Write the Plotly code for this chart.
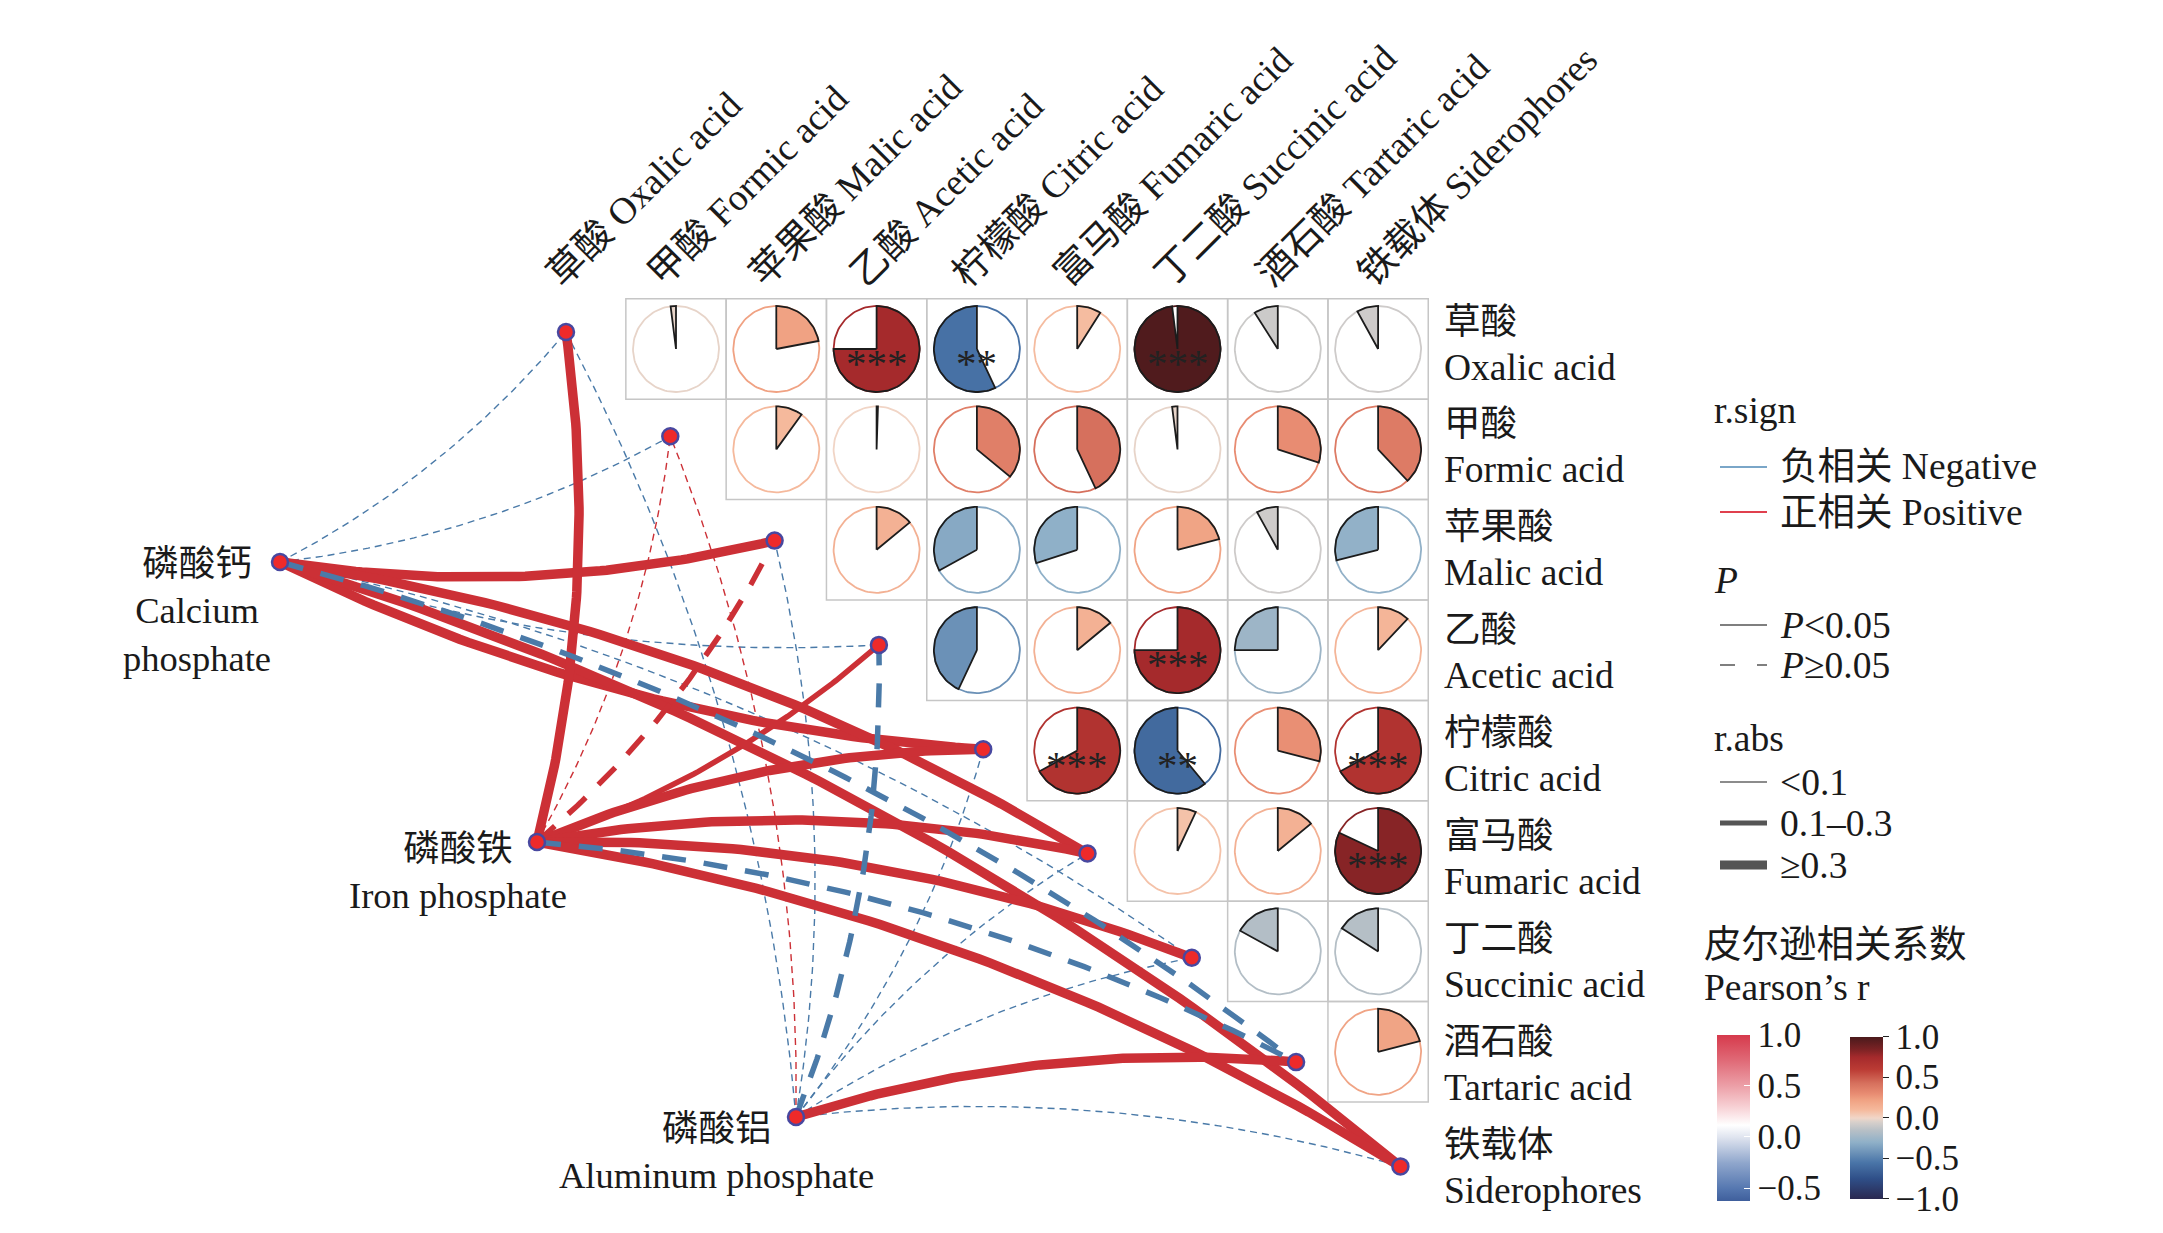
import numpy as np
import plotly.graph_objects as go

# ---------------- data ----------------
acid_en = ["Oxalic acid", "Formic acid", "Malic acid", "Acetic acid", "Citric acid",
           "Fumaric acid", "Succinic acid", "Tartaric acid", "Siderophores"]
acid_cn = ["草酸", "甲酸", "苹果酸", "乙酸", "柠檬酸", "富马酸", "丁二酸", "酒石酸", "铁载体"]

# Pearson r, upper triangle: row i holds columns i+1 .. 8
r_rows = [
    [-0.02, 0.22, 0.75, -0.57, 0.09, 0.98, -0.09, -0.08],
    [0.10, 0.005, 0.36, 0.43, -0.02, 0.30, 0.38],
    [0.14, -0.33, -0.30, 0.21, -0.08, -0.29],
    [-0.43, 0.14, 0.75, -0.25, 0.12],
    [0.67, -0.61, 0.29, 0.67],
    [0.07, 0.14, 0.82],
    [-0.17, -0.16],
    [0.21],
]
star_rows = [
    ["", "", "***", "**", "", "***", "", ""],
    ["", "", "", "", "", "", ""],
    ["", "", "", "", "", ""],
    ["", "", "***", "", ""],
    ["***", "**", "", "***"],
    ["", "", "***"],
    ["", ""],
    [""],
]

phos_cn = ["磷酸钙", "磷酸铁", "磷酸铝"]
phos_en = ["Calcium<br>phosphate", "Iron phosphate", "Aluminum phosphate"]

# Mantel-style links: sign (+1/-1), P<0.05 (1) or not (0), |r| class (0:<0.1, 1:0.1-0.3, 2:>=0.3)
calcium_sign = [-1, -1, 1, -1, 1, 1, -1, -1, 1]
calcium_sig = [0, 0, 1, 0, 1, 1, 0, 0, 1]
calcium_abs = [0, 0, 2, 0, 2, 2, 0, 1, 2]

iron_sign = [1, 1, 1, 1, 1, 1, 1, -1, 1]
iron_sig = [1, 0, 0, 1, 1, 1, 1, 0, 1]
iron_abs = [2, 0, 1, 1, 2, 2, 2, 1, 2]

alum_sign = [-1, 1, -1, -1, -1, -1, -1, 1, -1]
alum_sig = [0, 0, 0, 0, 0, 0, 0, 1, 0]
alum_abs = [0, 0, 0, 1, 0, 0, 0, 2, 0]

# ---------------- layout / style ----------------
W, H = 2163, 1233
X0, SX = 575.7, 100.3   # pixel of column 0 centre, px per column
Y0, SY = 349.0, 100.4   # pixel of row 0 centre, px per row
FONT = "Liberation Serif, 'Noto Sans CJK SC', serif"
FS = 37.5
TXT = "#1a1a1a"


def dat(xp, yp):
    return (xp - X0) / SX, (yp - Y0) / SY


def pap(xp, yp):
    return xp / W, 1 - yp / H


def hex2rgb(h):
    h = h.lstrip('#')
    return tuple(int(h[i:i + 2], 16) for i in (0, 2, 4))


def interp(stops, v):
    vmin, vmax = stops[0][0], stops[-1][0]
    v = min(max(v, vmin), vmax)
    for (v0, c0), (v1, c1) in zip(stops[:-1], stops[1:]):
        if v <= v1:
            f = 0 if v1 == v0 else (v - v0) / (v1 - v0)
            a, b = hex2rgb(c0), hex2rgb(c1)
            return 'rgb(%d,%d,%d)' % tuple(round(a[i] + (b[i] - a[i]) * f) for i in range(3))
    return stops[-1][1]


def to_scale(stops):
    vmin, vmax = stops[0][0], stops[-1][0]
    return [[(v - vmin) / (vmax - vmin), c] for v, c in stops]


PIE_STOPS = [(-1.0, "#2a2850"), (-0.75, "#2f4f88"), (-0.55, "#4a75a8"), (-0.3, "#8fb0c8"),
             (-0.15, "#b8c0c6"), (-0.05, "#d8d0cb"), (0.0, "#f1d6c8"), (0.1, "#f5b99c"),
             (0.22, "#f0a283"), (0.3, "#e88c72"), (0.43, "#d6705d"), (0.6, "#bb3b34"),
             (0.75, "#a52a2c"), (0.85, "#7a2224"), (1.0, "#4a1a1c")]
EDGE_STOPS = [(-0.62, "#3f5f9c"), (-0.5, "#5577b0"), (-0.25, "#8fa6cc"), (0.0, "#dfe4ef"),
              (0.12, "#ffffff"), (0.3, "#f7d0d4"), (0.5, "#eca0a8"), (0.75, "#e06a77"),
              (1.0, "#d63a4c")]

fig = go.Figure()
shapes = []
annotations = []

# ---------------- correlation grid with pies ----------------
RX, RY = 43 / SX, 43 / SY
for i, row in enumerate(r_rows):
    for j, r in enumerate(row):
        k = i + 1 + j
        cx, cy = k, i
        shapes.append(dict(type="rect", xref="x", yref="y", x0=cx - 0.5, x1=cx + 0.5,
                           y0=cy - 0.5, y1=cy + 0.5, line=dict(color="#c6c6c6", width=1.5),
                           layer="below"))
        col = interp(PIE_STOPS, r)
        th = np.linspace(0, 2 * np.pi, 121)
        fig.add_trace(go.Scatter(x=cx + RX * np.sin(th), y=cy - RY * np.cos(th), mode="lines",
                                 line=dict(color=col, width=1.8), hoverinfo="skip",
                                 showlegend=False))
        ang = 2 * np.pi * r
        ta = np.linspace(0, ang, max(3, int(abs(r) * 120) + 2))
        wx = np.concatenate([[cx], cx + RX * np.sin(ta), [cx]])
        wy = np.concatenate([[cy], cy - RY * np.cos(ta), [cy]])
        fig.add_trace(go.Scatter(x=wx, y=wy, mode="lines", fill="toself", fillcolor=col,
                                 line=dict(color="#1c1c1c", width=1.8), hoverinfo="skip",
                                 showlegend=False))
        s = star_rows[i][j]
        if s:
            annotations.append(dict(x=cx, y=cy, xref="x", yref="y", text=s, showarrow=False,
                                    font=dict(family=FONT, size=41, color="#222"),
                                    yshift=-14))

# ---------------- labels ----------------
for k in range(9):
    tx, ty = dat(548 + 101.4 * k - 12, 297)
    annotations.append(dict(x=tx, y=ty, xref="x", yref="y",
                            text=f"{acid_cn[k]} {acid_en[k]}", textangle=-45,
                            xanchor="left", yanchor="bottom", showarrow=False,
                            font=dict(family=FONT, size=FS, color=TXT)))
    lab_c = 344 + 102.9 * k
    lx, ly1 = dat(1442, lab_c - 23)
    _, ly2 = dat(1442, lab_c + 23)
    annotations.append(dict(x=lx, y=ly1, xref="x", yref="y", text=acid_cn[k],
                            xanchor="left", yanchor="middle", showarrow=False,
                            font=dict(family=FONT, size=FS - 1, color=TXT)))
    annotations.append(dict(x=lx, y=ly2, xref="x", yref="y", text=acid_en[k],
                            xanchor="left", yanchor="middle", showarrow=False,
                            font=dict(family=FONT, size=FS, color=TXT)))

# ---------------- network ----------------
acid_node_px = [(566 + 104.3 * k, 332 + 104.3 * k) for k in range(9)]
phos_node_px = [(280, 562), (537, 842), (796, 1117)]
phos_label_px = [(197, 611), (458, 872), (716, 1152)]

link_sign = [calcium_sign, iron_sign, alum_sign]
link_sig = [calcium_sig, iron_sig, alum_sig]
link_abs = [calcium_abs, iron_abs, alum_abs]

WIDTHS = [1.4, 5.5, 9.5]
POS_COL, NEG_COL = "#cc3036", "#4a7aa8"


def curve(p0, p1, side, c=0.1, n=80):
    p0 = np.array(p0, float)
    p1 = np.array(p1, float)
    d = p1 - p0
    L = np.hypot(*d)
    nrm = np.array([-d[1], d[0]]) / L
    ctrl = (p0 + p1) / 2 + side * c * L * nrm
    t = np.linspace(0, 1, n)[:, None]
    return (1 - t) ** 2 * p0 + 2 * t * (1 - t) * ctrl + t ** 2 * p1


edges = []
for p in range(3):
    for k in range(9):
        side = 1 if k <= 4 else -1
        if p == 1 and k == 4:
            side = -1
        edges.append((p, k, side))


def order(e):
    p, k, _ = e
    a = link_abs[p][k]
    return (0 if a == 0 else (1 if link_sig[p][k] else 2), a)


for p, k, side in sorted(edges, key=order):
    pts = curve(phos_node_px[p], acid_node_px[k], side)
    xs, ys = dat(pts[:, 0], pts[:, 1])
    a = link_abs[p][k]
    dash = "solid" if link_sig[p][k] else ("7px,5px" if a == 0 else "24px,18px")
    fig.add_trace(go.Scatter(x=xs, y=ys, mode="lines", hoverinfo="skip", showlegend=False,
                             line=dict(color=POS_COL if link_sign[p][k] > 0 else NEG_COL,
                                       width=WIDTHS[a], dash=dash)))

nx = [dat(*q)[0] for q in acid_node_px + phos_node_px]
ny = [dat(*q)[1] for q in acid_node_px + phos_node_px]
fig.add_trace(go.Scatter(x=nx, y=ny, mode="markers", hoverinfo="skip", showlegend=False,
                         marker=dict(size=16, color="#ee2a2a",
                                     line=dict(color="#4848a0", width=2.5))))

for p in range(3):
    lx, ly = dat(*phos_label_px[p])
    annotations.append(dict(x=lx, y=ly, xref="x", yref="y",
                            text=f"{phos_cn[p]}<br>{phos_en[p]}", align="center",
                            xanchor="center", yanchor="middle", showarrow=False,
                            font=dict(family=FONT, size=FS - 1, color=TXT)))

# ---------------- legends ----------------
def legtext(xp, yp, text, size=FS):
    x, y = pap(xp, yp)
    annotations.append(dict(x=x, y=y, xref="paper", yref="paper", text=text,
                            xanchor="left", yanchor="middle", showarrow=False,
                            font=dict(family=FONT, size=size, color=TXT)))


def legline(yp, color, width, dash="solid"):
    x0, y = pap(1720, yp)
    x1, _ = pap(1767, yp)
    shapes.append(dict(type="line", xref="paper", yref="paper", x0=x0, x1=x1, y0=y, y1=y,
                       line=dict(color=color, width=width, dash=dash)))


legtext(1712, 410, "r.sign")
legline(467, "#7aa6c8", 2)
legtext(1778, 467, "负相关 Negative")
legline(512, "#e0404e", 2)
legtext(1778, 512, "正相关 Positive")
legtext(1712, 580, "<i>P</i>")
legline(625, "#555555", 1.6)
legtext(1778, 625, "<i>P</i>&lt;0.05")
legline(665, "#555555", 1.6, "15px,22px")
legtext(1778, 665, "<i>P</i>≥0.05")
legtext(1712, 738, "r.abs")
legline(782, "#666666", 1.5)
legtext(1778, 782, "&lt;0.1")
legline(823, "#555555", 5)
legtext(1778, 823, "0.1–0.3")
legline(865, "#555555", 9)
legtext(1778, 865, "≥0.3")
legtext(1702, 945, "皮尔逊相关系数")
legtext(1702, 988, "Pearson’s r")

cb_y = 1 - 1117.5 / H
fig.add_trace(go.Scatter(x=[0], y=[0], mode="markers", hoverinfo="skip", showlegend=False,
                         marker=dict(size=1, opacity=0, color=[0], cmin=-0.62, cmax=1.0,
                                     colorscale=to_scale(EDGE_STOPS), showscale=True,
                                     colorbar=dict(x=1717 / W, xanchor="left", xpad=0, ypad=0,
                                                   y=cb_y, yanchor="middle",
                                                   thicknessmode="pixels", thickness=33,
                                                   lenmode="pixels", len=166,
                                                   outlinewidth=0, ticks="inside",
                                                   tickcolor="white", ticklen=6,
                                                   tickvals=[-0.5, 0, 0.5, 1.0],
                                                   ticktext=["−0.5", "0.0", "0.5", "1.0"],
                                                   tickfont=dict(family=FONT, size=35,
                                                                 color=TXT)))))
fig.add_trace(go.Scatter(x=[0], y=[0], mode="markers", hoverinfo="skip", showlegend=False,
                         marker=dict(size=1, opacity=0, color=[0], cmin=-1, cmax=1,
                                     colorscale=to_scale(PIE_STOPS), showscale=True,
                                     colorbar=dict(x=1850 / W, xanchor="left", xpad=0, ypad=0,
                                                   y=cb_y, yanchor="middle",
                                                   thicknessmode="pixels", thickness=33,
                                                   lenmode="pixels", len=162,
                                                   outlinewidth=0, ticks="outside",
                                                   tickcolor="#222", ticklen=6,
                                                   tickvals=[-1, -0.5, 0, 0.5, 1.0],
                                                   ticktext=["−1.0", "−0.5", "0.0", "0.5", "1.0"],
                                                   tickfont=dict(family=FONT, size=35,
                                                                 color=TXT)))))

xr = [dat(0, 0)[0], dat(W, 0)[0]]
yr = [dat(0, H)[1], dat(0, 0)[1]]
fig.update_layout(width=W, height=H, margin=dict(l=0, r=0, t=0, b=0),
                  paper_bgcolor="white", plot_bgcolor="white",
                  xaxis=dict(range=xr, visible=False, fixedrange=True, domain=[0, 1]),
                  yaxis=dict(range=yr, visible=False, fixedrange=True, domain=[0, 1]),
                  shapes=shapes, annotations=annotations, showlegend=False)
fig.write_html("out.html", config={"displayModeBar": False},
               post_script="document.body.style.margin='0px';")
